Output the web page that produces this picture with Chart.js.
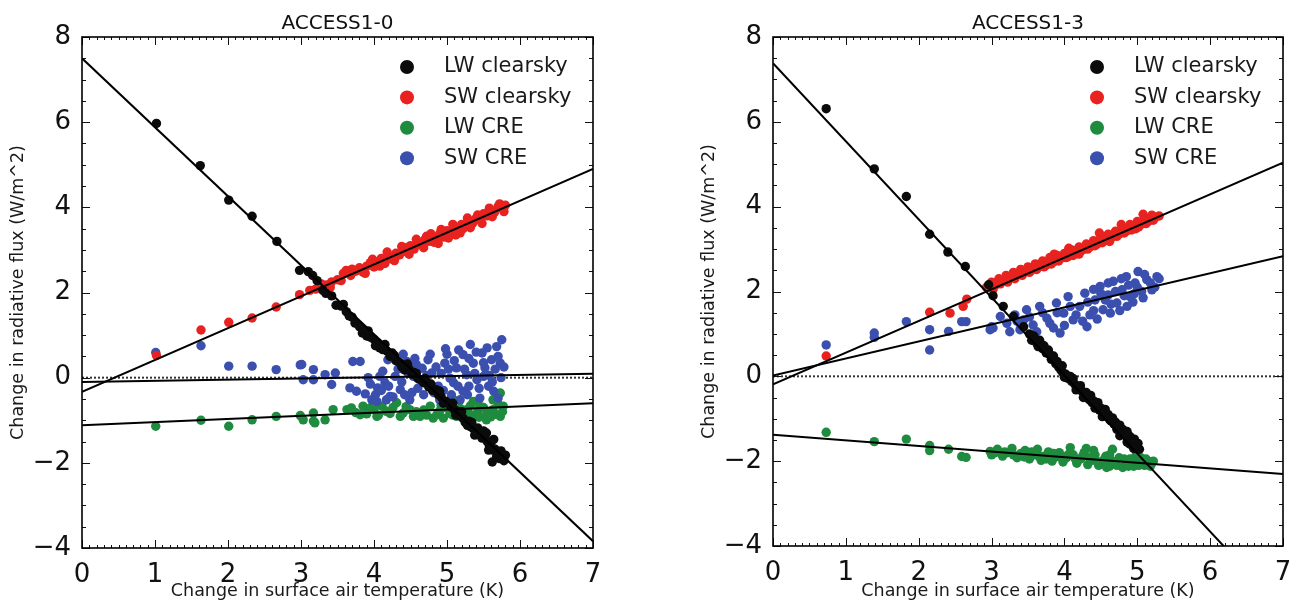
<!DOCTYPE html>
<html>
<head>
<meta charset="utf-8">
<title>Radiative flux vs surface air temperature</title>
<script src="https://cdn.jsdelivr.net/npm/chart.js@4.4.1/dist/chart.umd.min.js"></script>
<style>
  html, body { margin: 0; padding: 0; background: #fff; }
  body { width: 1298px; height: 603px; position: relative; overflow: hidden; }
  canvas { position: absolute; top: 0; }
  #chartA10 { left: 0; }
  #chartA13 { left: 691px; }
</style>
</head>
<body>
<canvas id="chartA10" width="640" height="603"></canvas>
<canvas id="chartA13" width="607" height="603"></canvas>
<script>
// axis ticks
const xTicks = [0, 1, 2, 3, 4, 5, 6, 7];
const yTicks = [-4, -2, 0, 2, 4, 6, 8];
const seriesNames = ['LW clearsky', 'SW clearsky', 'LW CRE', 'SW CRE'];

// ACCESS1-0 : [dT (K), dF (W/m^2)]
const a10LwClear = [
  [1.02,5.97],[1.62,4.98],[2.01,4.17],[2.33,3.79],[2.67,3.20],[2.98,2.52],[3.10,2.49],[3.16,2.40],
  [3.22,2.28],[3.30,2.05],[3.34,1.98],[3.42,1.92],[3.55,1.68],[3.62,1.55],[3.70,1.42],[3.74,1.28],
  [3.80,1.20],[3.86,1.12],[3.90,0.98],[3.95,0.95],[4.00,0.90],[4.05,0.82],[4.08,0.70],[4.12,0.66],
  [4.18,0.62],[4.22,0.50],[4.25,0.58],[4.30,0.40],[4.35,0.35],[4.40,0.30],[4.42,0.18],[4.48,0.20],
  [4.52,0.08],[4.55,0.12],[4.60,-0.02],[4.64,-0.05],[4.68,-0.12],[4.72,-0.10],[4.75,-0.22],[4.80,-0.30],
  [4.85,-0.28],[4.88,-0.40],[4.92,-0.45],[4.98,-0.55],[5.02,-0.60],[5.05,-0.68],[5.10,-0.75],[5.15,-0.80],
  [5.18,-0.90],[5.22,-0.95],[5.25,-1.05],[5.30,-1.02],[5.32,-1.15],[5.36,-1.20],[5.40,-1.28],[5.42,-1.18],
  [5.45,-1.35],[5.48,-1.42],[5.52,-1.40],[5.55,-1.50],[5.58,-1.60],[5.60,-1.55],[5.63,-1.70],[5.66,-1.68],
  [5.70,-1.78],[5.72,-1.90],[5.75,-1.85],[5.78,-1.95],[5.62,-1.98],[5.54,-1.30],[5.28,-1.12],
  [3.48,1.70],[3.58,1.72],[3.66,1.45],[3.84,1.05],[3.92,1.10],[4.02,0.75],[4.15,0.78],[4.28,0.52],
  [4.38,0.25],[4.46,0.32],[4.58,0.10],[4.70,-0.02],[4.78,-0.15],[4.90,-0.32],[4.95,-0.60],[5.08,-0.60],
  [5.12,-0.88],[5.20,-0.80],[5.34,-1.05],[5.38,-1.35],[5.50,-1.25],[5.57,-1.70],[5.64,-1.45],[5.68,-1.85],
  [5.74,-1.72],[5.80,-1.82]
];
const a10SwClear = [
  [1.02,0.52],[1.63,1.12],[2.01,1.30],[2.33,1.40],[2.66,1.66],[2.98,1.95],[3.12,2.05],[3.20,2.08],
  [3.28,2.20],[3.35,2.18],[3.42,2.25],[3.50,2.30],[3.58,2.45],[3.62,2.52],[3.68,2.40],[3.75,2.50],
  [3.80,2.58],[3.85,2.48],[3.90,2.62],[3.95,2.70],[4.00,2.60],[4.05,2.72],[4.10,2.80],[4.15,2.68],
  [4.20,2.85],[4.25,2.78],[4.30,2.92],[4.35,2.88],[4.40,3.00],[4.45,2.95],[4.50,3.10],[4.55,3.02],
  [4.60,3.18],[4.65,3.12],[4.70,3.25],[4.75,3.20],[4.80,3.30],[4.85,3.22],[4.90,3.38],[4.95,3.30],
  [5.00,3.45],[5.05,3.38],[5.10,3.52],[5.15,3.45],[5.20,3.60],[5.25,3.55],[5.30,3.68],[5.35,3.62],
  [5.40,3.75],[5.45,3.70],[5.50,3.85],[5.55,3.80],[5.60,3.92],[5.65,3.88],[5.70,4.02],[5.75,3.98],
  [5.80,4.05],[4.88,3.15],[5.12,3.35],[4.42,3.05],
  [3.40,2.12],[3.55,2.28],[3.70,2.55],[3.88,2.45],[3.98,2.78],[4.08,2.62],[4.18,2.95],[4.28,2.75],
  [4.38,3.08],[4.48,2.90],[4.58,3.25],[4.68,3.05],[4.78,3.38],[4.82,3.18],[4.92,3.48],[5.02,3.28],
  [5.08,3.60],[5.18,3.40],[5.28,3.75],[5.32,3.52],[5.42,3.82],[5.48,3.62],[5.58,3.98],[5.62,3.78],
  [5.72,4.08],[5.78,3.90],[4.72,3.32],[5.22,3.50]
];
const a10LwCre = [
  [1.01,-1.14],[1.63,-1.00],[2.01,-1.14],[2.33,-0.99],[2.66,-0.91],[2.99,-0.89],[3.03,-0.99],[3.17,-0.83],
  [3.17,-1.02],[3.19,-1.06],[3.33,-0.99],[3.44,-0.75],[3.63,-0.75],[3.69,-0.71],[3.81,-0.87],[3.85,-0.67],
  [3.95,-0.71],[4.04,-0.91],[4.11,-0.67],[4.17,-0.79],[4.31,-0.59],[4.36,-0.91],[4.49,-0.75],[4.54,-0.91],
  [4.63,-0.91],[4.77,-0.67],[4.81,-0.95],[4.86,-0.87],[4.95,-0.95],[5.00,-0.71],[5.09,-0.52],[5.13,-0.91],
  [5.22,-0.95],[5.27,-0.75],[5.36,-0.91],[5.36,-0.56],[5.45,-0.67],[5.54,-0.87],[5.54,-0.99],[5.63,-0.75],
  [5.63,-0.52],[5.73,-0.91],[5.73,-0.36],[5.77,-0.67],
  [3.75,-0.82],[3.90,-0.85],[4.00,-0.74],[4.06,-0.88],[4.22,-0.84],[4.26,-0.70],[4.40,-0.83],[4.44,-0.68],
  [4.58,-0.80],[4.68,-0.76],[4.72,-0.88],[4.90,-0.78],[4.92,-0.65],[5.04,-0.84],[5.18,-0.72],[5.30,-0.84],
  [5.32,-0.66],[5.42,-0.80],[5.50,-0.70],[5.58,-0.80],[5.66,-0.86],[5.70,-0.62],[5.76,-0.80],[5.60,-0.92],
  [5.44,-0.93],[5.08,-0.88]
];
const a10SwCre = [
  [1.01,0.59],[1.63,0.75],[2.01,0.27],[2.33,0.27],[2.66,0.19],[2.99,0.30],[3.01,0.31],[3.03,-0.05],
  [3.17,0.19],[3.17,-0.05],[3.33,0.07],[3.42,-0.16],[3.47,0.11],[3.67,-0.24],[3.71,0.38],[3.76,-0.32],
  [3.81,0.38],[3.92,0.00],[3.97,-0.52],[4.04,-0.56],[4.05,-0.24],[4.08,0.03],[4.15,-0.12],[4.17,-0.52],
  [4.19,0.42],[4.22,-0.44],[4.29,0.03],[4.36,-0.28],[4.45,0.38],[4.49,-0.52],[4.54,0.03],[4.58,0.31],
  [4.63,-0.05],[4.70,-0.12],[4.74,0.42],[4.79,0.11],[4.88,-0.20],[4.90,-0.52],[4.97,0.34],[5.04,-0.01],
  [5.09,-0.12],[5.13,0.23],[5.18,-0.52],[5.22,0.54],[5.22,-0.32],[5.27,0.07],[5.32,0.78],[5.36,0.34],
  [5.41,-0.05],[5.45,-0.48],[5.48,0.58],[5.50,0.03],[5.52,0.23],[5.57,-0.20],[5.61,0.42],[5.64,-0.32],
  [5.68,0.73],[5.70,-0.48],[5.73,0.34],[5.75,0.89],
  [3.88,-0.38],[3.95,-0.15],[4.02,-0.40],[4.10,-0.30],[4.12,0.15],[4.20,-0.20],[4.26,-0.45],[4.33,0.20],
  [4.38,-0.10],[4.42,-0.40],[4.47,0.10],[4.52,-0.35],[4.56,0.45],[4.60,-0.25],[4.66,0.22],[4.68,-0.40],
  [4.72,0.05],[4.77,0.55],[4.82,-0.35],[4.85,0.25],[4.92,0.10],[4.95,-0.30],[5.00,0.55],[5.02,0.20],
  [5.06,-0.40],[5.10,0.40],[5.15,-0.20],[5.16,0.65],[5.24,0.20],[5.28,-0.40],[5.30,0.45],[5.38,0.10],
  [5.40,0.60],[5.44,-0.25],[5.50,0.35],[5.55,0.70],[5.58,0.05],[5.62,-0.10],[5.66,0.20],[5.70,0.50],
  [5.74,0.00],[5.78,0.25],[5.30,-0.20],[4.98,0.68],[4.40,0.55]
];
// regression lines, end points at 0 K and 7 K
const a10FitLwClear = [[0, 7.50], [7, -3.84]];
const a10FitSwClear = [[0, -0.33], [7, 4.90]];
const a10FitLwCre = [[0, -1.12], [7, -0.60]];
const a10FitSwCre = [[0, -0.10], [7, 0.09]];

// ACCESS1-3
const a13LwClear = [
  [0.73,6.31],[1.39,4.89],[1.83,4.24],[2.15,3.35],[2.40,2.93],[2.64,2.59],[2.96,2.16],[3.02,1.90],
  [3.16,1.65],[3.30,1.41],[3.44,1.17],[3.52,1.00],[3.58,0.95],[3.62,0.78],[3.66,0.85],[3.70,0.65],
  [3.75,0.55],[3.78,0.62],[3.82,0.40],[3.85,0.48],[3.88,0.30],[3.92,0.22],[3.95,0.15],[3.98,0.08],
  [4.02,0.05],[4.05,-0.05],[4.08,0.00],[4.10,-0.12],[4.14,-0.18],[4.18,-0.25],[4.20,-0.30],[4.24,-0.35],
  [4.28,-0.45],[4.30,-0.38],[4.34,-0.55],[4.38,-0.62],[4.40,-0.58],[4.44,-0.70],[4.48,-0.80],[4.50,-0.75],
  [4.54,-0.88],[4.58,-0.95],[4.60,-0.90],[4.64,-1.05],[4.68,-1.12],[4.70,-1.08],[4.74,-1.20],[4.78,-1.30],
  [4.80,-1.25],[4.84,-1.38],[4.88,-1.45],[4.90,-1.42],[4.94,-1.55],[4.98,-1.62],[5.00,-1.70],[5.03,-1.72],
  [4.86,-1.55],[4.76,-1.40],[4.92,-1.50],
  [3.55,0.85],[3.64,0.70],[3.72,0.72],[3.80,0.52],[3.90,0.35],[3.97,0.25],[4.00,-0.02],[4.12,-0.05],
  [4.16,-0.32],[4.22,-0.22],[4.26,-0.50],[4.32,-0.48],[4.36,-0.45],[4.42,-0.75],[4.46,-0.62],[4.52,-0.95],
  [4.56,-0.78],[4.62,-1.02],[4.66,-0.98],[4.72,-1.25],[4.76,-1.15],[4.82,-1.35],[4.86,-1.30],[4.90,-1.60],
  [4.96,-1.48],[5.01,-1.58],[4.95,-1.70]
];
const a13SwClear = [
  [0.73,0.48],[2.15,1.51],[2.43,1.49],[2.61,1.65],[2.66,1.82],[2.93,2.10],[3.00,2.22],[3.05,2.15],
  [3.10,2.30],[3.15,2.25],[3.20,2.38],[3.25,2.32],[3.30,2.45],[3.35,2.40],[3.40,2.52],[3.45,2.45],
  [3.50,2.58],[3.55,2.50],[3.60,2.65],[3.65,2.60],[3.70,2.72],[3.75,2.62],[3.80,2.80],[3.85,2.70],
  [3.90,2.85],[3.95,2.78],[4.00,2.90],[4.05,2.82],[4.10,2.98],[4.15,2.90],[4.20,3.05],[4.25,2.98],
  [4.30,3.12],[4.35,3.05],[4.40,3.20],[4.45,3.12],[4.50,3.28],[4.55,3.20],[4.60,3.35],[4.65,3.28],
  [4.70,3.42],[4.75,3.35],[4.80,3.50],[4.85,3.42],[4.90,3.58],[4.95,3.50],[5.00,3.65],[5.05,3.58],
  [5.10,3.72],[5.15,3.65],[5.20,3.80],[5.25,3.75],[4.20,2.88],[4.62,3.18],[4.98,3.48],
  [3.02,2.05],[3.12,2.18],[3.22,2.22],[3.32,2.30],[3.42,2.38],[3.52,2.45],[3.62,2.52],[3.72,2.58],
  [3.82,2.65],[3.92,2.72],[4.02,2.80],[4.12,2.85],[4.22,2.95],[4.32,3.00],[4.42,3.08],[4.52,3.15],
  [4.62,3.22],[4.72,3.30],[4.82,3.38],[4.92,3.45],[5.02,3.52],[5.12,3.60],[5.22,3.68],[4.48,3.38],
  [4.78,3.58],[5.08,3.82],[5.30,3.78],[3.86,2.88],[4.06,3.02]
];
const a13LwCre = [
  [0.73,-1.32],[1.39,-1.54],[1.83,-1.48],[2.15,-1.63],[2.15,-1.75],[2.41,-1.72],[2.59,-1.89],[2.65,-1.91],
  [2.98,-1.77],[3.00,-1.85],[3.08,-1.72],[3.15,-1.88],[3.22,-1.80],[3.28,-1.70],[3.35,-1.92],[3.40,-1.82],
  [3.46,-1.75],[3.52,-1.95],[3.58,-1.85],[3.63,-1.72],[3.68,-1.98],[3.72,-1.88],[3.78,-1.78],[3.83,-2.00],
  [3.88,-1.90],[3.93,-1.80],[3.98,-2.02],[4.03,-1.92],[4.08,-1.68],[4.12,-1.85],[4.17,-2.05],[4.22,-1.95],
  [4.27,-1.80],[4.32,-2.08],[4.37,-1.98],[4.42,-1.85],[4.47,-2.10],[4.52,-2.00],[4.57,-1.88],[4.62,-2.12],
  [4.66,-1.72],[4.70,-2.02],[4.75,-1.92],[4.80,-2.15],[4.85,-2.05],[4.90,-1.95],[4.95,-2.12],[5.00,-2.02],
  [5.05,-1.92],[5.10,-2.10],[5.15,-2.00],[5.20,-2.05],[4.58,-2.15],[4.30,-1.70],
  [3.05,-1.80],[3.18,-1.78],[3.30,-1.85],[3.45,-1.90],[3.55,-1.78],[3.65,-1.88],[3.75,-1.95],[3.85,-1.82],
  [3.95,-1.90],[4.05,-1.85],[4.15,-1.95],[4.25,-1.88],[4.35,-1.92],[4.45,-2.02],[4.55,-1.95],[4.65,-2.00],
  [4.72,-2.10],[4.82,-1.95],[4.88,-2.12],[4.92,-2.02],[5.02,-2.10],[5.08,-2.00],[5.12,-1.95],[5.18,-2.12],
  [5.22,-2.00],[4.62,-1.85],[4.40,-1.75],[4.98,-1.88]
];
const a13SwCre = [
  [0.73,0.74],[1.39,1.02],[1.39,0.92],[1.83,1.29],[2.15,1.10],[2.15,0.62],[2.41,1.06],[2.59,1.29],
  [2.65,1.29],[2.98,1.10],[3.00,1.17],[3.02,1.14],[3.12,1.41],[3.21,1.25],[3.32,1.45],[3.39,1.10],
  [3.44,1.33],[3.48,1.57],[3.57,1.21],[3.66,1.65],[3.76,1.37],[3.85,1.14],[3.89,1.73],[3.94,1.02],
  [3.99,1.49],[4.05,1.88],[4.12,1.33],[4.21,1.65],[4.28,1.96],[4.31,1.17],[4.35,1.45],[4.42,1.80],
  [4.49,2.12],[4.53,1.57],[4.60,1.92],[4.63,1.49],[4.67,2.24],[4.72,1.73],[4.79,2.04],[4.85,2.35],
  [4.90,1.88],[4.97,2.20],[5.01,2.47],[5.06,2.00],[5.13,2.28],[5.20,2.04],[5.27,2.35],
  [3.25,1.05],[3.35,1.30],[3.52,1.40],[3.62,1.05],[3.70,1.50],[3.80,1.25],[3.90,1.50],[4.00,1.20],
  [4.08,1.65],[4.16,1.45],[4.25,1.30],[4.32,1.75],[4.40,1.55],[4.45,1.35],[4.56,1.80],[4.64,1.70],
  [4.70,2.00],[4.76,1.55],[4.82,1.90],[4.88,2.15],[4.94,1.75],[5.00,2.10],[5.08,1.85],[5.10,2.40],
  [5.18,2.20],[5.24,2.10],[5.30,2.30],[4.50,1.95],[4.78,2.30],[4.96,1.95],[4.40,2.05],[4.60,2.20],
  [4.86,1.65]
];
const a13FitLwClear = [[0, 7.38], [7, -5.50]];
const a13FitSwClear = [[0, -0.19], [7, 5.04]];
const a13FitLwCre = [[0, -1.38], [7, -2.30]];
const a13FitSwCre = [[0, 0.02], [7, 2.83]];

const seriesColors = ['#0b0b0b', '#e8231f', '#1e8b3e', '#3a4fae'];
const FONT = '"DejaVu Sans", "Liberation Sans", sans-serif';
Chart.defaults.font.family = FONT;

const toXY = arr => arr.map(([x, y]) => ({ x, y }));
const minusFmt = v => (v < 0 ? '\u2212' + Math.abs(v) : String(v));

// box frame with inward minor/major ticks on all four sides
const frameTicks = {
  id: 'frameTicks',
  afterDatasetsDraw(chart) {
    const { ctx, chartArea: a, scales: { x, y } } = chart;
    ctx.save();
    ctx.strokeStyle = '#111';
    ctx.lineWidth = 1;
    ctx.beginPath();
    for (let i = 0; i <= 70; i++) {
      const px = Math.round(x.getPixelForValue(i / 10)) + 0.5;
      const len = i % 10 === 0 ? 8 : 3;
      ctx.moveTo(px, a.bottom); ctx.lineTo(px, a.bottom - len);
      ctx.moveTo(px, a.top); ctx.lineTo(px, a.top + len);
    }
    for (let i = -8; i <= 16; i++) {
      const py = Math.round(y.getPixelForValue(i / 2)) + 0.5;
      const len = i % 4 === 0 ? 8 : 4;
      ctx.moveTo(a.left, py); ctx.lineTo(a.left + len, py);
      ctx.moveTo(a.right, py); ctx.lineTo(a.right - len, py);
    }
    ctx.stroke();
    ctx.lineWidth = 1.6;
    ctx.strokeStyle = '#000';
    ctx.strokeRect(a.left, a.top, a.width, a.height);
    ctx.restore();
  }
};

// legend sitting inside the upper right of the axes
const insideLegend = {
  id: 'insideLegend',
  afterDraw(chart) {
    const { ctx, chartArea: a } = chart;
    ctx.save();
    ctx.font = '21px ' + FONT;
    ctx.textBaseline = 'middle';
    ctx.textAlign = 'left';
    chart.data.datasets.filter(d => d.type === 'scatter').forEach((d, i) => {
      const cy = a.top + 30 + i * 30.4;
      ctx.fillStyle = d.backgroundColor;
      ctx.beginPath();
      ctx.arc(a.right - 186, cy, 7, 0, Math.PI * 2);
      ctx.fill();
      ctx.fillStyle = '#1a1a1a';
      ctx.fillText(d.label, a.right - 149, cy);
    });
    ctx.restore();
  }
};

function makePanel(id, title, scatterSets, fitSets, padRight, xAxisHeight) {
  const order = [1, 2, 4, 3];
  const datasets = scatterSets.map((pts, i) => ({
    type: 'scatter',
    label: seriesNames[i],
    data: toXY(pts),
    backgroundColor: seriesColors[i],
    borderWidth: 0,
    pointRadius: 4.7,
    order: order[i]
  }));
  fitSets.forEach(pts => datasets.push({
    type: 'line',
    data: toXY(pts),
    borderColor: '#000',
    borderWidth: 2,
    pointRadius: 0,
    fill: false,
    order: 0
  }));
  // zero reference
  datasets.push({
    type: 'line',
    data: toXY([[0, 0], [7, 0]]),
    borderColor: '#333',
    borderWidth: 2,
    borderDash: [2, 2],
    pointRadius: 0,
    fill: false,
    order: 6
  });

  return new Chart(document.getElementById(id), {
    type: 'scatter',
    data: { datasets },
    options: {
      responsive: false,
      animation: false,
      layout: { padding: { left: 0, right: padRight, top: 0, bottom: 0 } },
      plugins: {
        legend: { display: false },
        tooltip: { enabled: false },
        title: {
          display: true,
          text: title,
          fullSize: false,
          color: '#111',
          font: { size: 20, weight: 'normal' },
          padding: { top: 12, bottom: 1 }
        }
      },
      scales: {
        x: {
          type: 'linear',
          min: 0,
          max: 7,
          afterBuildTicks: s => { s.ticks = xTicks.map(v => ({ value: v })); },
          afterFit: s => { s.height = xAxisHeight; },
          grid: { display: false },
          border: { display: false },
          ticks: { color: '#111', font: { size: 26 }, padding: 4, maxRotation: 0, autoSkip: false, callback: minusFmt },
          title: {
            display: true,
            text: 'Change in surface air temperature (K)',
            color: '#1a1a1a',
            font: { size: 17.5 },
            padding: { top: 0, bottom: 1 }
          }
        },
        y: {
          type: 'linear',
          min: -4,
          max: 8,
          afterBuildTicks: s => { s.ticks = yTicks.map(v => ({ value: v })); },
          afterFit: s => { s.width = 82; },
          grid: { display: false },
          border: { display: false },
          ticks: { color: '#111', font: { size: 26 }, padding: 3, autoSkip: false, callback: minusFmt },
          title: {
            display: true,
            text: 'Change in radiative flux (W/m^2)',
            color: '#1a1a1a',
            font: { size: 17.5 },
            padding: { top: 8, bottom: 0 }
          }
        }
      }
    },
    plugins: [frameTicks, insideLegend]
  });
}

makePanel('chartA10', 'ACCESS1-0',
  [a10LwClear, a10SwClear, a10LwCre, a10SwCre],
  [a10FitLwClear, a10FitSwClear, a10FitLwCre, a10FitSwCre], 47, 55);

makePanel('chartA13', 'ACCESS1-3',
  [a13LwClear, a13SwClear, a13LwCre, a13SwCre],
  [a13FitLwClear, a13FitSwClear, a13FitLwCre, a13FitSwCre], 15, 57);
</script>
</body>
</html>
